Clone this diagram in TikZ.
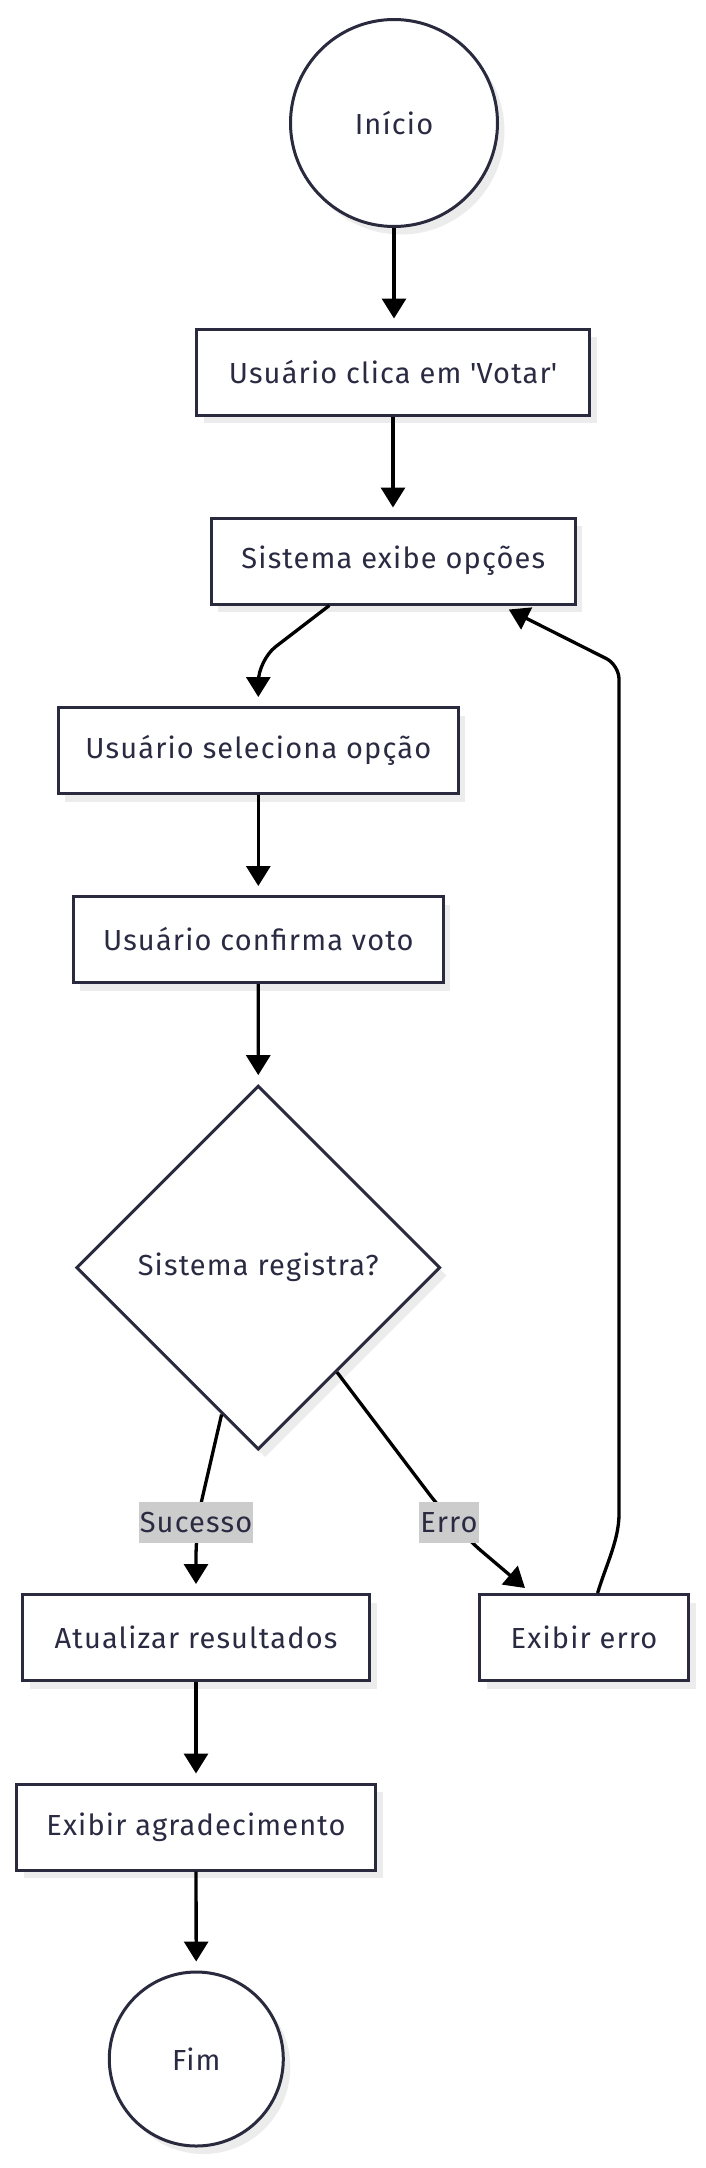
\documentclass[tikz,border=0pt]{standalone}
\usepackage{fontspec}
\setmainfont{Fira Sans}[LetterSpace=4]
\usetikzlibrary{arrows.meta,shapes.geometric,shadows}
\definecolor{ink}{RGB}{42,42,62}
\definecolor{txt}{RGB}{42,42,66}
\definecolor{shadowgray}{RGB}{236,236,236}
\definecolor{lblgray}{RGB}{204,204,204}
\begin{document}
\begin{tikzpicture}[x=1pt,y=-1pt,
  txtfont/.style={font=\fontsize{29}{34}\selectfont},
  base/.style={draw=ink, line width=3pt, fill=white, text=txt, txtfont,
    drop shadow={shadow xshift=7pt, shadow yshift=-8pt, fill=shadowgray, opacity=1}},
  proc/.style={base, rectangle, minimum height=86pt, inner sep=0pt},
  term/.style={base, circle, inner sep=0pt},
  decision/.style={base, diamond, aspect=1, inner sep=0pt},
  edge/.style={draw=black, line width=3.3pt, -{Triangle[length=20pt,width=24pt]}},
  lbl/.style={fill=lblgray, text=txt, txtfont, inner xsep=1pt, inner ysep=0pt, minimum height=41pt}
]
\useasboundingbox (0,0) rectangle (706,2168);

\node[term, minimum size=207pt] (start) at (394,123) {Início};
\node[proc, minimum width=393pt] (b1) at (393,372) {Usuário clica em \textquotesingle Votar\textquotesingle};
\node[proc, minimum width=364pt] (b2) at (393.3,561) {Sistema exibe opções};
\node[proc, minimum width=400pt] (b3) at (258.3,750.5) {Usuário seleciona opção};
\node[proc, minimum width=370pt] (b4) at (258.3,939.5) {Usuário confirma voto};
\node[decision, minimum size=364pt] (dec) at (258.2,1267.6) {Sistema registra?};
\node[proc, minimum width=347pt] (atual) at (196,1637.5) {Atualizar resultados};
\node[proc, minimum width=209pt] (erro) at (584,1637.5) {Exibir erro};
\node[proc, minimum width=359pt] (agrad) at (196,1827) {Exibir agradecimento};
\node[term, minimum size=174pt] (fim) at (196.3,2059) {Fim};

\draw[edge, shorten >=9pt] (start.south) -- (start.south |- b1.north);
\draw[edge, shorten >=9pt] (b1.south) -- (b1.south |- b2.north);
\draw[edge, shorten >=9pt, rounded corners=22pt] ([xshift=-64pt]b2.south) -- (258.3,660) -- (b3.north);
\draw[edge, shorten >=9pt] (b3) -- (b4);
\draw[edge, shorten >=9pt] (b4) -- (dec);
\draw[edge, shorten >=9pt, rounded corners=12pt] (dec.256.6) -- (199.5,1510) -- (196,1545) -- (atual.north);
\draw[edge, rounded corners=12pt] (dec.307.4) -- (436,1503) -- (472,1543) -- ([xshift=-59pt,yshift=5pt]erro.north);
\draw[edge, rounded corners=14pt] ([xshift=13.6pt]erro.north) .. controls (606,1565) and (619,1540) .. (619,1500) -- (619,665) -- ([xshift=-68pt,yshift=-4pt]b2.south east);
\draw[edge, shorten >=9pt] (atual) -- (agrad);
\draw[edge, shorten >=9pt] (agrad) -- (fim);

\node[lbl] (ls) at (196,1522.5) {Sucesso};
\node[lbl] (le) at (449,1522.5) {Erro};
\end{tikzpicture}
\end{document}
